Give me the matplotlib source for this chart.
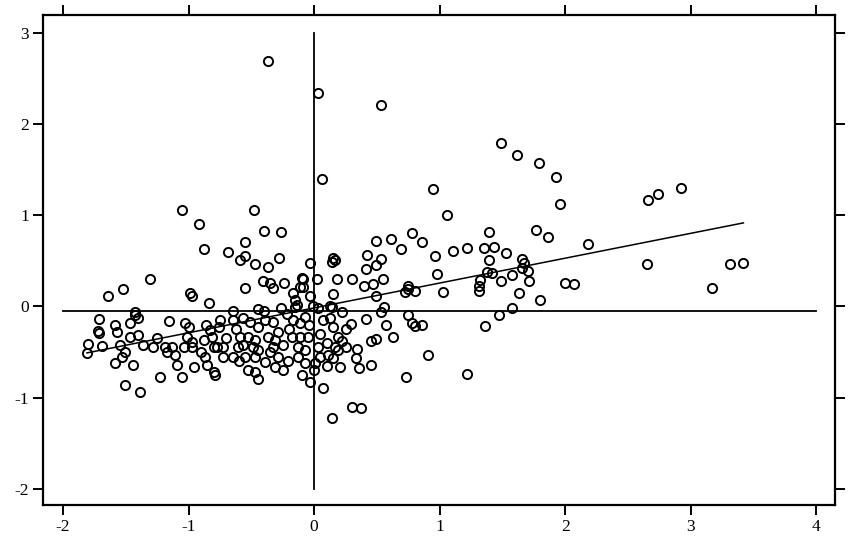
import matplotlib
matplotlib.use("Agg")
import matplotlib.pyplot as plt
import numpy as np

# scatter points (standardized value, spatial lag)
x = [-0.37, 0.03, 0.53, 0.06, 1.49, 1.62, 1.79, 1.93, 1.96, 0.95,
     1.06, 2.18, 2.66, 2.74, 2.92, 2.65, 3.17, 3.31, 3.42, 1.86,
     2.00, 2.07, 1.80, 1.39, 1.77, 0.78, 0.86, 0.49, 0.61, 0.69,
     0.96, 1.11, 1.22, 1.35, 1.43, 1.53, 1.66, 1.67, 1.66, 0.42,
     0.53, 0.15, 0.17, 0.14, -0.03, 0.41, 0.49, 0.98, 1.39, 1.38,
     1.42, 1.49, 1.58, 1.70, 1.71, 0.30, 0.18, 0.02, -0.09, 0.55,
     0.40, 0.47, 0.75, 0.75, 0.72, 0.80, 1.03, 1.32, 1.31, 1.31,
     1.63, 0.49, 0.15, -0.09, -0.03, 0.56, 0.53, 0.22, -0.01, 0.03,
     0.13, 1.58, 1.47, 1.36, 0.75, 0.78, 0.80, 0.86, 0.29, 0.41,
     0.57, 0.63, 0.45, 0.49, 0.34, 0.33, 0.36, 0.45, 0.21, 0.91,
     0.73, 1.22, 0.07, -0.03, 0.07, 0.13, 0.15, 0.19, 0.22, 0.17,
     0.19, 0.11, 0.15, 0.03, 0.05, 0.01, 0.30, 0.37, 0.14,
     -0.45, -0.26, -0.15, -0.75, -0.65, -0.57, -0.51, -0.39, -0.33, -0.17,
     -0.11, -0.07, -0.76, -0.45, -0.29, -0.59, -0.53, -0.47, -0.37, -0.31,
     -0.18, -0.11, -0.05, -0.77, -0.73, -0.61, -0.57, -0.49, -0.45, -0.33,
     -0.25, -0.13, -0.07, -0.73, -0.65, -0.55, -0.47, -0.39, -0.29, -0.13,
     -0.07, -0.53, -0.47, -0.31, -0.10, -0.45, -0.79,
     -1.71, -1.59, -1.47, -1.43, -1.40, -1.16, -1.03, -1.00, -1.72, -1.71,
     -1.57, -1.47, -1.40, -1.80, -1.69, -1.81, -1.55, -1.51, -1.53, -1.36,
     -1.28, -1.19, -1.13, -1.17, -1.11, -1.04, -0.97, -0.97, -0.88, -0.81,
     -1.59, -1.44, -1.09, -0.96, -0.87, -0.85, -0.80, -1.05, -1.23, -1.51,
     -1.39, -0.80,
     -1.05, -0.92, -0.88, -1.31, -1.52, -1.64, -0.99, -0.97, -0.84, -1.43,
     -0.48, -0.40, -0.26, -0.55, -0.69, -0.59, -0.55, -0.47, -0.37, -0.28,
     -0.41, -0.35, -0.33, -0.55, -0.24, -0.10, -0.11, -0.17, -0.15, -0.14,
     0.14, -1.01, -0.83,
     -0.20, -0.35, -0.62, -0.40, 0.05, 0.10, -0.04, 0.25, -0.21, -0.60,
     -0.70, -0.25, 0.00, 0.10, -0.90, -0.65, 0.25, -0.22, -0.86, -1.25]
y = [2.69, 2.34, 2.21, 1.40, 1.79, 1.66, 1.57, 1.42, 1.12, 1.29,
     1.00, 0.69, 1.17, 1.23, 1.30, 0.47, 0.20, 0.47, 0.48, 0.76,
     0.26, 0.25, 0.07, 0.82, 0.84, 0.81, 0.71, 0.72, 0.74, 0.63,
     0.55, 0.61, 0.64, 0.64, 0.65, 0.59, 0.52, 0.48, 0.42, 0.57,
     0.52, 0.53, 0.51, 0.49, 0.48, 0.41, 0.45, 0.36, 0.51, 0.38,
     0.37, 0.28, 0.34, 0.39, 0.28, 0.30, 0.30, 0.30, 0.30, 0.30,
     0.23, 0.25, 0.23, 0.19, 0.16, 0.17, 0.16, 0.29, 0.23, 0.17,
     0.15, 0.11, 0.14, 0.21, 0.11, -0.01, -0.06, -0.06, 0.01, -0.02,
     0.01, -0.02, -0.09, -0.22, -0.09, -0.18, -0.22, -0.20, -0.19, -0.14,
     -0.20, -0.33, -0.38, -0.36, -0.47, -0.57, -0.68, -0.64, -0.67, -0.53,
     -0.78, -0.74, -0.89, -0.83, -0.15, -0.13, -0.23, -0.34, -0.38, -0.45,
     -0.48, -0.53, -0.57, -0.45, -0.56, -0.62, -1.10, -1.12, -1.22,
     -0.03, -0.02, -0.01, -0.15, -0.15, -0.13, -0.17, -0.15, -0.17, -0.15,
     -0.18, -0.12, -0.23, -0.23, -0.28, -0.33, -0.34, -0.37, -0.34, -0.37,
     -0.33, -0.34, -0.34, -0.44, -0.45, -0.45, -0.42, -0.44, -0.48, -0.44,
     -0.42, -0.45, -0.48, -0.55, -0.56, -0.55, -0.55, -0.61, -0.56, -0.56,
     -0.62, -0.70, -0.72, -0.67, -0.75, -0.80, -0.75,
     -0.14, -0.20, -0.18, -0.09, -0.13, -0.16, -0.18, -0.23, -0.27, -0.29,
     -0.28, -0.33, -0.31, -0.41, -0.43, -0.51, -0.42, -0.50, -0.55, -0.42,
     -0.45, -0.44, -0.45, -0.50, -0.53, -0.45, -0.44, -0.39, -0.37, -0.33,
     -0.62, -0.64, -0.64, -0.66, -0.55, -0.64, -0.72, -0.77, -0.78, -0.86,
     -0.94, -0.45,
     1.06, 0.91, 0.63, 0.30, 0.19, 0.11, 0.15, 0.12, 0.04, -0.06,
     1.06, 0.83, 0.82, 0.71, 0.60, 0.51, 0.55, 0.47, 0.43, 0.53,
     0.28, 0.26, 0.20, 0.20, 0.26, 0.31, 0.21, 0.15, 0.07, 0.02,
     -0.01, -0.33, -0.26,
     -0.25, -0.50, -0.25, -0.05, -0.30, -0.40, -0.20, -0.25, -0.60, -0.60,
     -0.35, -0.70, -0.70, -0.65, -0.50, -0.05, -0.45, -0.08, -0.20, -0.35]

# fitted line and reference lines
slope = 0.273
intercept = -0.016
y_mean = -0.055
x_ticks = [-2, -1, 0, 1, 2, 3, 4]
y_ticks = [-2, -1, 0, 1, 2, 3]

fig = plt.figure(figsize=(8.5, 5.39), dpi=100)
ax = fig.add_axes([0.0506, 0.0631, 0.9318, 0.909])

ax.plot(x, y, 'o', markersize=6.6, markerfacecolor='none',
        markeredgecolor='black', markeredgewidth=1.4, zorder=3)

ax.plot([0, 0], [-2, 3], color='black', lw=1.3)
ax.plot([-2, 4], [y_mean, y_mean], color='black', lw=1.3)
xl = np.array([min(x), max(x)])
ax.plot(xl, intercept + slope * xl, color='black', lw=1.1)

ax.set_xlim(-2.16, 4.15)
ax.set_ylim(-2.18, 3.2)
ax.set_xticks(x_ticks)
ax.set_yticks(y_ticks)
ax.set_xticklabels([str(t) for t in x_ticks])
ax.set_yticklabels([str(t) for t in y_ticks])
ax.tick_params(direction='out', length=7, width=1.4, top=True, right=True,
               labelsize=12.5, pad=3)
for lab in ax.get_xticklabels() + ax.get_yticklabels():
    lab.set_family('Liberation Serif')
for s in ax.spines.values():
    s.set_linewidth(1.6)

fig.savefig('out.png', dpi=100)
